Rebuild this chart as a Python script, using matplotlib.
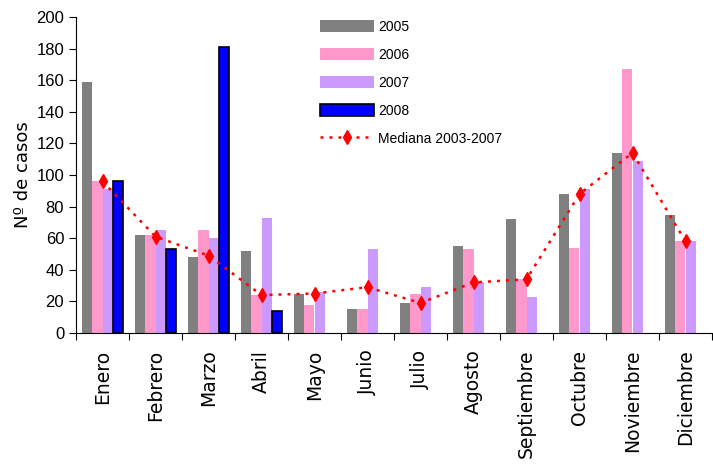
import numpy as np
import matplotlib
matplotlib.use('Agg')
import matplotlib.pyplot as plt

meses = ['Enero', 'Febrero', 'Marzo', 'Abril', 'Mayo', 'Junio', 'Julio',
         'Agosto', 'Septiembre', 'Octubre', 'Noviembre', 'Diciembre']
casos_2005 = [159, 62, 48, 52, 25, 15, 19, 55, 72, 88, 114, 75]
casos_2006 = [96, 62, 65, 24, 18, 15, 25, 53, 34, 54, 167, 58]
casos_2007 = [91, 65, 60, 73, 26, 53, 29, 32, 23, 91, 109, 58]
casos_2008 = [96, 53, 181, 14, np.nan, np.nan, np.nan, np.nan, np.nan, np.nan, np.nan, np.nan]
mediana = [96, 61, 49, 24, 25, 29, 19, 32, 34, 88, 114, 58]

fig = plt.figure(figsize=(7.13, 4.72), dpi=100)
ax = fig.add_axes([76 / 713, 1 - 333 / 472, 636 / 713, 316 / 472])

x = np.arange(len(meses))
w = 0.19
b1 = ax.bar(x - 1.5 * w, casos_2005, w, color='#808080', label='2005')
b2 = ax.bar(x - 0.5 * w, casos_2006, w, color='#FF99CC', label='2006')
b3 = ax.bar(x + 0.5 * w, casos_2007, w, color='#CC99FF', label='2007')
b4 = ax.bar(x + 1.5 * w, casos_2008, w, color='#0000FF', edgecolor='black',
            linewidth=1.2, label='2008')
ln, = ax.plot(x, mediana, color='red', linestyle=(0, (1.2, 2.4)), linewidth=1.8,
              marker='d', markersize=7.5, label='Mediana 2003-2007')

ax.set_xlim(-0.5, 11.5)
ax.set_ylim(0, 200)
ax.set_yticks(range(0, 201, 20))
ax.tick_params(axis='y', labelsize=12, length=5, direction='out')
for lab in ax.get_yticklabels():
    lab.set_family(['Liberation Sans', 'DejaVu Sans'])

# ticks between months, labels in the middle
ax.set_xticks(np.arange(-0.5, 12, 1))
ax.set_xticklabels([])
ax.set_xticks(x, minor=True)
ax.set_xticklabels(meses, minor=True, rotation=90, fontsize=13.5)
ax.tick_params(axis='x', which='major', length=5, direction='out')
ax.tick_params(axis='x', which='minor', length=0, pad=12)

ax.spines['top'].set_visible(False)
ax.spines['right'].set_visible(False)
ax.set_ylabel('Nº de casos', fontsize=13, labelpad=3)

leg = ax.legend([b1, b2, b3, b4, ln],
                ['2005', '2006', '2007', '2008', 'Mediana 2003-2007'],
                loc='upper left', bbox_to_anchor=(320 / 713, 1 - 20 / 472),
                bbox_transform=fig.transFigure, frameon=False, borderpad=0,
                handlelength=3.9, handleheight=0.9, labelspacing=1.0,
                handletextpad=0.3, borderaxespad=0,
                prop={'family': ['Liberation Sans'], 'size': 10})

fig.savefig('out.png', dpi=100)
